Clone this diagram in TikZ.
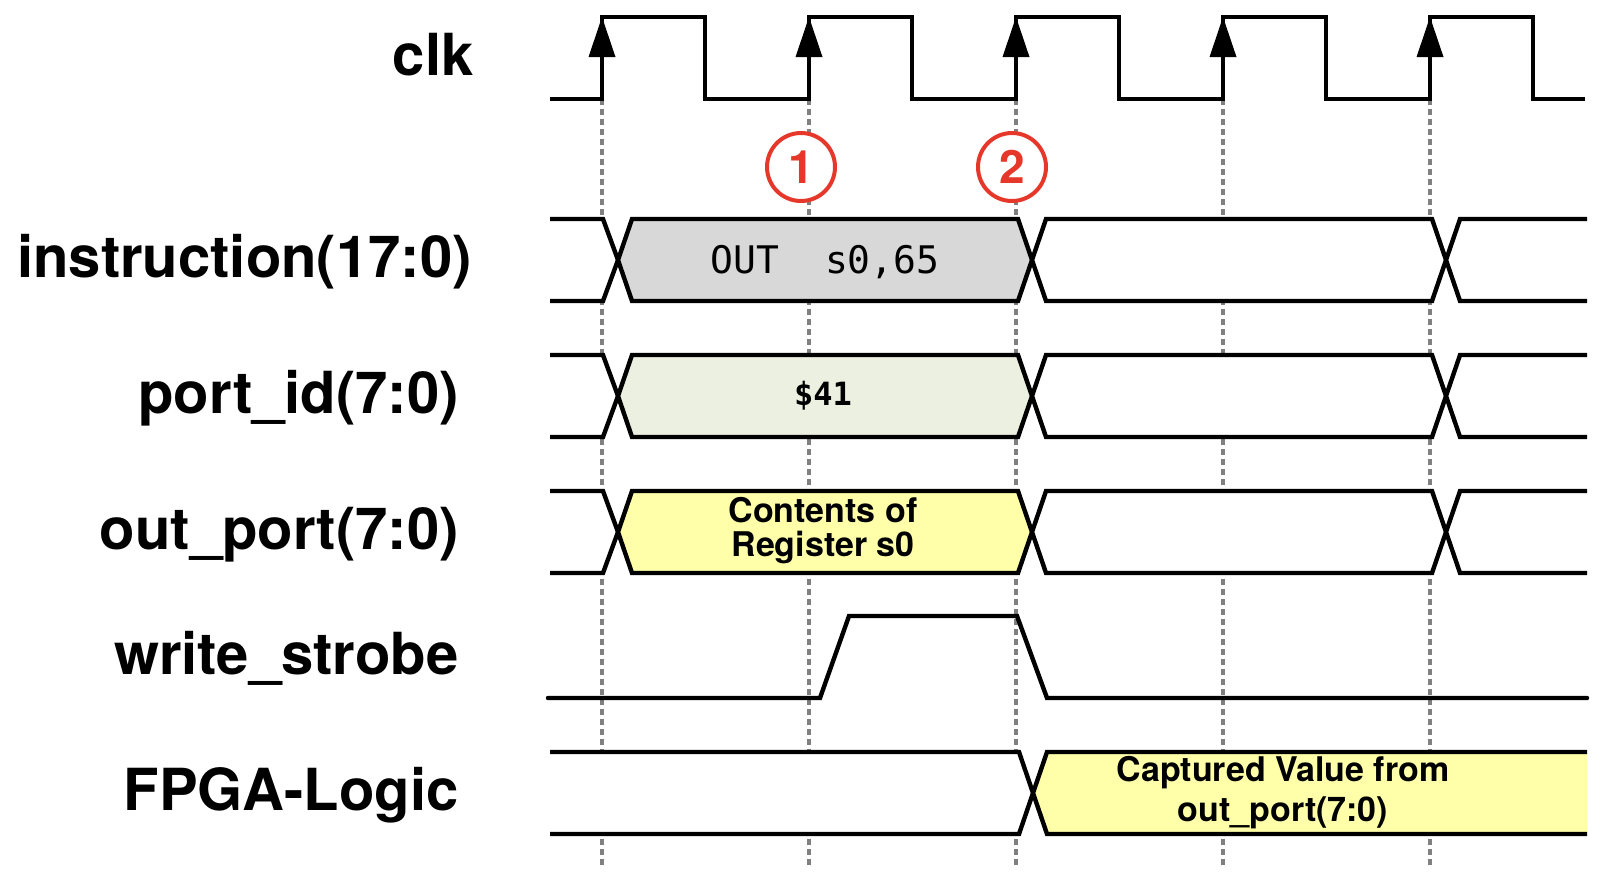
\documentclass[tikz,border=0pt]{standalone}
\usepackage{fontspec}
\setmainfont{TeX Gyre Heros}
\setmonofont{DejaVu Sans Mono}
\tikzset{>=stealth}
\definecolor{instgray}{RGB}{216,216,216}
\definecolor{idgreen}{RGB}{236,240,224}
\definecolor{busyellow}{RGB}{255,255,170}
\definecolor{markred}{RGB}{230,56,42}
\definecolor{gridgray}{RGB}{128,128,128}
\tikzset{
    wave/.style={line width=2.2pt},
    gridline/.style={draw=gridgray, line width=1.6pt, dash pattern=on 3pt off 2pt},
    siglabel/.style={anchor=base east, inner sep=0pt, font=\fontsize{29}{30}\selectfont\bfseries},
    bustext/.style={align=center, inner sep=0pt, font=\fontsize{17}{17}\selectfont\bfseries},
    callout/.style={circle, draw=markred, line width=2pt, fill=white, minimum size=34pt, inner sep=0pt,
        text=markred, font=\fontsize{23}{23}\selectfont\bfseries}
}

\begin{document}
\begin{tikzpicture}[x=0.5pt, y=-0.5pt]
    \useasboundingbox (0,0) rectangle (1604,874);
    % guide lines at the rising edges
    \foreach \x in {602,809,1016,1223,1430}
        \draw[gridline] (\x,99) -- (\x,866);
    % clock
    \draw[wave] (550,99) foreach \x in {602,809,1016,1223,1430} {-- (\x,99) -- (\x,17) -- (\x+103,17) -- (\x+103,99)} -- (1585,99);
    \foreach \x in {602,809,1016,1223,1430}
        \fill (\x,17) -- (\x-13.5,57) -- (\x+13.5,57) -- cycle;
    % buses
    \foreach \c/\col in {260/instgray, 396/idgreen, 532/busyellow} {
        \draw[wave, fill=white] (550,\c-41) -- (603,\c-41) -- (618,\c) -- (603,\c+41) -- (550,\c+41);
        \draw[wave, fill=\col] (618,\c) -- (632,\c-41) -- (1018,\c-41) -- (1032,\c) -- (1018,\c+41) -- (632,\c+41) -- cycle;
        \draw[wave, fill=white] (1032,\c) -- (1046,\c-41) -- (1432,\c-41) -- (1446,\c) -- (1432,\c+41) -- (1046,\c+41) -- cycle;
        \draw[wave, fill=white] (1587,\c-41) -- (1460,\c-41) -- (1446,\c) -- (1460,\c+41) -- (1587,\c+41);
    }
    % write_strobe
    \draw[wave, line cap=round] (548,698) -- (820,698) -- (849,616) -- (1017,616) -- (1047,698) -- (1587,698);
    % FPGA-Logic
    \draw[wave, fill=white] (550,752) -- (1019,752) -- (1033,793) -- (1019,834) -- (550,834);
    \draw[wave, fill=busyellow] (1587,752) -- (1047,752) -- (1033,793) -- (1047,834) -- (1587,834);

    \node[siglabel] (lclk) at (474,75) {clk};
    \node[siglabel] (linst) at (472,277) {instruction(17:0)};
    \node[siglabel] (lport) at (459,413) {port\_id(7:0)};
    \node[siglabel] (lout) at (459,549) {out\_port(7:0)};
    \node[siglabel] (lws) at (459,674) {write\_strobe};
    \node[siglabel] (lfpga) at (459,810) {FPGA-Logic};

    \node[anchor=base, inner sep=0pt, font=\fontsize{19}{19}\selectfont\ttfamily] (instval) at (825,273) {OUT\ \ s0,65};
    \node[anchor=base, inner sep=0pt, font=\fontsize{16}{16}\selectfont\ttfamily\bfseries] (idval) at (823,405) {\$41};
    \node[bustext] (outval) at (823,531) {Contents of\\Register s0};
    \node[bustext, font=\fontsize{17}{20}\selectfont\bfseries] (capval) at (1283,793) {Captured Value from\\out\_port(7:0)};

    \node[callout] (one) at (801,167) {1};
    \node[callout] (two) at (1012,167) {2};
\end{tikzpicture}
\end{document}
